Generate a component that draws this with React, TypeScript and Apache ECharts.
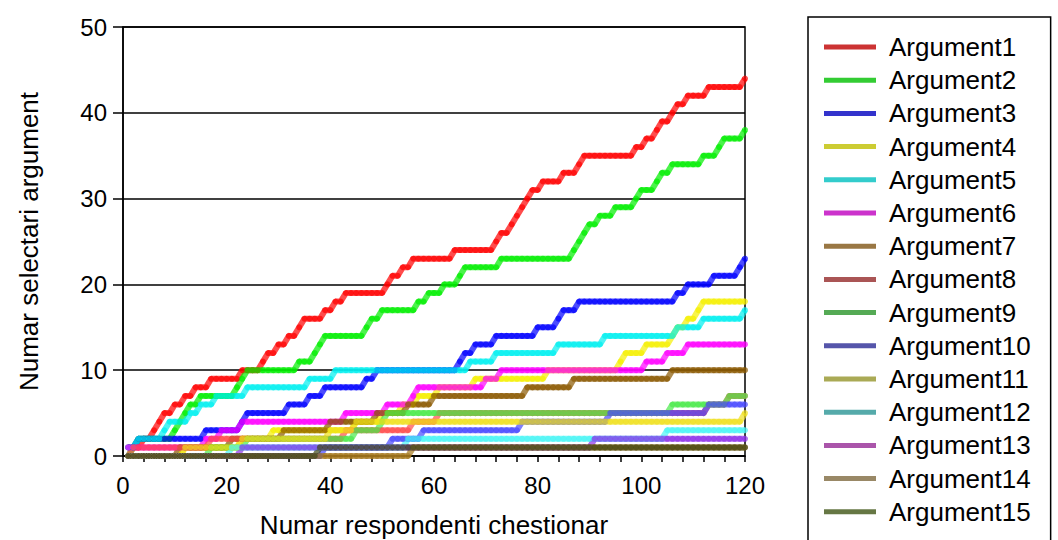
import { useEffect, useRef } from "react";
import * as echarts from "echarts";

const seriesNames = [
  "Argument1", "Argument2", "Argument3", "Argument4", "Argument5",
  "Argument6", "Argument7", "Argument8", "Argument9", "Argument10",
  "Argument11", "Argument12", "Argument13", "Argument14", "Argument15",
];

// respondent numbers (x) 1..120
const respondents = Array.from({ length: 120 }, (_, i) => i + 1);

const xTickLabels = [0, 20, 40, 60, 80, 100, 120];
const yTickLabels = [0, 10, 20, 30, 40, 50];

const arg1 = [
  1, 1, 1, 2, 2, 3, 4, 5, 5, 6,
  6, 7, 7, 8, 8, 8, 9, 9, 9, 9,
  9, 9, 10, 10, 10, 10, 11, 12, 12, 13,
  13, 14, 14, 15, 16, 16, 16, 16, 17, 17,
  18, 18, 19, 19, 19, 19, 19, 19, 19, 19,
  20, 21, 21, 22, 22, 23, 23, 23, 23, 23,
  23, 23, 23, 24, 24, 24, 24, 24, 24, 24,
  24, 25, 26, 26, 27, 28, 29, 30, 31, 31,
  32, 32, 32, 32, 33, 33, 33, 34, 35, 35,
  35, 35, 35, 35, 35, 35, 35, 35, 36, 36,
  37, 37, 38, 39, 39, 40, 41, 41, 42, 42,
  42, 42, 43, 43, 43, 43, 43, 43, 43, 44,
];
const arg2 = [
  0, 1, 2, 2, 2, 2, 2, 2, 2, 3,
  4, 5, 6, 6, 7, 7, 7, 7, 7, 7,
  7, 8, 9, 10, 10, 10, 10, 10, 10, 10,
  10, 10, 10, 11, 11, 11, 12, 13, 14, 14,
  14, 14, 14, 14, 14, 14, 15, 16, 16, 17,
  17, 17, 17, 17, 17, 17, 18, 18, 19, 19,
  19, 20, 20, 20, 21, 22, 22, 22, 22, 22,
  22, 22, 23, 23, 23, 23, 23, 23, 23, 23,
  23, 23, 23, 23, 23, 23, 24, 25, 26, 27,
  27, 28, 28, 28, 29, 29, 29, 29, 30, 31,
  31, 31, 32, 33, 33, 34, 34, 34, 34, 34,
  34, 35, 35, 35, 36, 37, 37, 37, 37, 38,
];
const arg3 = [
  1, 1, 2, 2, 2, 2, 2, 2, 2, 2,
  2, 2, 2, 2, 2, 3, 3, 3, 3, 3,
  3, 3, 4, 5, 5, 5, 5, 5, 5, 5,
  5, 6, 6, 6, 6, 7, 7, 7, 8, 8,
  8, 8, 8, 8, 8, 8, 9, 9, 10, 10,
  10, 10, 10, 10, 10, 10, 10, 10, 10, 10,
  10, 10, 10, 10, 11, 12, 12, 13, 13, 13,
  13, 14, 14, 14, 14, 14, 14, 14, 14, 15,
  15, 15, 15, 16, 17, 17, 17, 18, 18, 18,
  18, 18, 18, 18, 18, 18, 18, 18, 18, 18,
  18, 18, 18, 18, 18, 18, 19, 19, 20, 20,
  20, 20, 20, 21, 21, 21, 21, 21, 22, 23,
];
const arg4 = [
  0, 0, 0, 0, 0, 0, 0, 0, 0, 0,
  0, 1, 1, 1, 1, 1, 1, 1, 1, 1,
  1, 1, 2, 2, 2, 2, 2, 2, 3, 3,
  3, 3, 3, 3, 3, 3, 3, 3, 3, 3,
  3, 3, 3, 3, 4, 4, 4, 4, 4, 5,
  5, 5, 5, 6, 6, 6, 7, 7, 7, 7,
  8, 8, 8, 8, 8, 8, 8, 9, 9, 9,
  9, 9, 9, 9, 9, 9, 9, 9, 9, 9,
  9, 10, 10, 10, 10, 10, 10, 10, 10, 10,
  10, 10, 10, 10, 10, 11, 12, 12, 12, 12,
  13, 13, 13, 13, 13, 14, 15, 15, 16, 16,
  17, 18, 18, 18, 18, 18, 18, 18, 18, 18,
];
const arg5 = [
  1, 1, 2, 2, 2, 2, 2, 3, 4, 4,
  4, 4, 5, 5, 6, 6, 6, 7, 7, 7,
  7, 7, 7, 8, 8, 8, 8, 8, 8, 8,
  8, 8, 8, 8, 8, 9, 9, 9, 9, 9,
  10, 10, 10, 10, 10, 10, 10, 10, 10, 10,
  10, 10, 10, 10, 10, 10, 10, 10, 10, 10,
  10, 10, 10, 10, 10, 10, 11, 11, 11, 11,
  11, 12, 12, 12, 12, 12, 12, 12, 12, 12,
  12, 12, 12, 13, 13, 13, 13, 13, 13, 13,
  13, 13, 14, 14, 14, 14, 14, 14, 14, 14,
  14, 14, 14, 14, 14, 14, 15, 15, 15, 15,
  15, 16, 16, 16, 16, 16, 16, 16, 16, 17,
];
const arg6 = [
  1, 1, 1, 1, 1, 1, 1, 1, 1, 1,
  1, 1, 1, 1, 1, 2, 2, 2, 3, 3,
  3, 3, 4, 4, 4, 4, 4, 4, 4, 4,
  4, 4, 4, 4, 4, 4, 4, 4, 4, 4,
  4, 4, 5, 5, 5, 5, 5, 5, 5, 5,
  6, 6, 6, 6, 6, 7, 8, 8, 8, 8,
  8, 8, 8, 8, 8, 8, 8, 8, 8, 9,
  9, 9, 10, 10, 10, 10, 10, 10, 10, 10,
  10, 10, 10, 10, 10, 10, 10, 10, 10, 10,
  10, 10, 10, 10, 10, 10, 10, 10, 10, 10,
  11, 11, 11, 11, 12, 12, 12, 12, 13, 13,
  13, 13, 13, 13, 13, 13, 13, 13, 13, 13,
];
const arg7 = [
  0, 0, 0, 0, 0, 0, 0, 0, 0, 0,
  1, 1, 1, 1, 1, 1, 1, 1, 1, 1,
  2, 2, 2, 2, 2, 2, 2, 2, 2, 2,
  3, 3, 3, 3, 3, 3, 3, 3, 3, 4,
  4, 4, 4, 4, 4, 4, 4, 4, 5, 5,
  5, 5, 5, 5, 6, 6, 6, 6, 6, 7,
  7, 7, 7, 7, 7, 7, 7, 7, 7, 7,
  7, 7, 7, 7, 7, 7, 7, 8, 8, 8,
  8, 8, 8, 8, 8, 8, 9, 9, 9, 9,
  9, 9, 9, 9, 9, 9, 9, 9, 9, 9,
  9, 9, 9, 9, 9, 10, 10, 10, 10, 10,
  10, 10, 10, 10, 10, 10, 10, 10, 10, 10,
];
const arg8 = [
  0, 1, 1, 1, 1, 1, 1, 1, 1, 1,
  1, 1, 1, 1, 1, 1, 2, 2, 2, 2,
  2, 2, 2, 2, 2, 2, 2, 2, 2, 2,
  2, 2, 2, 2, 2, 2, 2, 2, 2, 2,
  2, 2, 3, 3, 3, 3, 3, 3, 3, 3,
  3, 3, 3, 3, 3, 4, 4, 4, 4, 4,
  5, 5, 5, 5, 5, 5, 5, 5, 5, 5,
  5, 5, 5, 5, 5, 5, 5, 5, 5, 5,
  5, 5, 5, 5, 5, 5, 5, 5, 5, 5,
  5, 5, 5, 5, 5, 5, 5, 5, 5, 5,
  5, 5, 5, 5, 5, 5, 5, 5, 5, 5,
  5, 5, 6, 6, 6, 6, 7, 7, 7, 7,
];
const arg9 = [
  0, 0, 0, 0, 0, 0, 0, 0, 0, 0,
  0, 0, 0, 0, 0, 0, 1, 1, 1, 1,
  1, 1, 1, 2, 2, 2, 2, 2, 2, 2,
  2, 2, 2, 2, 2, 2, 2, 2, 2, 2,
  2, 2, 2, 2, 3, 3, 3, 3, 3, 4,
  5, 5, 5, 5, 5, 5, 5, 5, 5, 5,
  5, 5, 5, 5, 5, 5, 5, 5, 5, 5,
  5, 5, 5, 5, 5, 5, 5, 5, 5, 5,
  5, 5, 5, 5, 5, 5, 5, 5, 5, 5,
  5, 5, 5, 5, 5, 5, 5, 5, 5, 5,
  5, 5, 5, 5, 5, 6, 6, 6, 6, 6,
  6, 6, 6, 6, 6, 6, 7, 7, 7, 7,
];
const arg10 = [
  0, 0, 0, 0, 0, 0, 0, 0, 0, 0,
  0, 0, 0, 0, 0, 0, 0, 0, 0, 0,
  0, 0, 0, 0, 0, 0, 0, 0, 0, 0,
  0, 0, 0, 0, 0, 0, 0, 0, 1, 1,
  1, 1, 1, 1, 1, 1, 1, 1, 1, 1,
  1, 2, 2, 2, 2, 2, 2, 3, 3, 3,
  3, 3, 3, 3, 3, 3, 3, 3, 3, 3,
  3, 3, 3, 3, 3, 3, 4, 4, 4, 4,
  4, 4, 4, 4, 4, 4, 4, 4, 4, 4,
  4, 4, 4, 5, 5, 5, 5, 5, 5, 5,
  5, 5, 5, 5, 5, 5, 5, 5, 5, 5,
  5, 5, 6, 6, 6, 6, 6, 6, 6, 6,
];
const arg11 = [
  0, 0, 0, 0, 0, 0, 0, 0, 0, 0,
  0, 1, 1, 1, 1, 1, 1, 1, 1, 1,
  1, 1, 2, 2, 2, 2, 2, 2, 2, 2,
  2, 2, 2, 2, 2, 2, 2, 2, 2, 3,
  3, 3, 3, 3, 4, 4, 4, 4, 4, 4,
  4, 4, 4, 4, 4, 4, 4, 4, 4, 4,
  4, 4, 4, 4, 4, 4, 4, 4, 4, 4,
  4, 4, 4, 4, 4, 4, 4, 4, 4, 4,
  4, 4, 4, 4, 4, 4, 4, 4, 4, 4,
  4, 4, 4, 4, 4, 4, 4, 4, 4, 4,
  4, 4, 4, 4, 4, 4, 4, 4, 4, 4,
  4, 4, 4, 4, 4, 4, 4, 4, 4, 5,
];
const arg12 = [
  0, 0, 0, 0, 0, 0, 0, 0, 0, 0,
  0, 0, 0, 0, 0, 0, 0, 0, 0, 0,
  1, 1, 1, 1, 1, 1, 1, 1, 1, 1,
  1, 1, 1, 1, 1, 1, 1, 1, 1, 1,
  1, 1, 1, 1, 1, 1, 1, 1, 1, 1,
  1, 1, 1, 1, 2, 2, 2, 2, 2, 2,
  2, 2, 2, 2, 2, 2, 2, 2, 2, 2,
  2, 2, 2, 2, 2, 2, 2, 2, 2, 2,
  2, 2, 2, 2, 2, 2, 2, 2, 2, 2,
  2, 2, 2, 2, 2, 2, 2, 2, 2, 2,
  2, 2, 2, 2, 3, 3, 3, 3, 3, 3,
  3, 3, 3, 3, 3, 3, 3, 3, 3, 3,
];
const arg13 = [
  0, 0, 0, 0, 0, 0, 0, 0, 0, 0,
  0, 0, 0, 0, 0, 0, 0, 0, 0, 0,
  0, 0, 1, 1, 1, 1, 1, 1, 1, 1,
  1, 1, 1, 1, 1, 1, 1, 1, 1, 1,
  1, 1, 1, 1, 1, 1, 1, 1, 1, 1,
  1, 1, 1, 1, 1, 1, 1, 1, 1, 1,
  1, 1, 1, 1, 1, 1, 1, 1, 1, 1,
  1, 1, 1, 1, 1, 1, 1, 1, 1, 1,
  1, 1, 1, 1, 1, 1, 1, 1, 1, 1,
  2, 2, 2, 2, 2, 2, 2, 2, 2, 2,
  2, 2, 2, 2, 2, 2, 2, 2, 2, 2,
  2, 2, 2, 2, 2, 2, 2, 2, 2, 2,
];
const arg14 = [
  0, 0, 0, 0, 0, 0, 0, 0, 0, 0,
  0, 0, 0, 0, 0, 0, 0, 0, 0, 0,
  0, 0, 0, 0, 0, 0, 0, 0, 0, 0,
  0, 0, 0, 0, 0, 0, 0, 0, 0, 0,
  0, 0, 0, 0, 0, 0, 0, 0, 0, 0,
  0, 0, 0, 0, 0, 1, 1, 1, 1, 1,
  1, 1, 1, 1, 1, 1, 1, 1, 1, 1,
  1, 1, 1, 1, 1, 1, 1, 1, 1, 1,
  1, 1, 1, 1, 1, 1, 1, 1, 1, 1,
  1, 1, 1, 1, 1, 1, 1, 1, 1, 1,
  1, 1, 1, 1, 1, 1, 1, 1, 1, 1,
  1, 1, 1, 1, 1, 1, 1, 1, 1, 1,
];
const arg15 = [
  0, 0, 0, 0, 0, 0, 0, 0, 0, 0,
  0, 0, 0, 0, 0, 0, 0, 0, 0, 0,
  0, 0, 0, 0, 0, 0, 0, 0, 0, 0,
  0, 0, 0, 0, 0, 0, 0, 1, 1, 1,
  1, 1, 1, 1, 1, 1, 1, 1, 1, 1,
  1, 1, 1, 1, 1, 1, 1, 1, 1, 1,
  1, 1, 1, 1, 1, 1, 1, 1, 1, 1,
  1, 1, 1, 1, 1, 1, 1, 1, 1, 1,
  1, 1, 1, 1, 1, 1, 1, 1, 1, 1,
  1, 1, 1, 1, 1, 1, 1, 1, 1, 1,
  1, 1, 1, 1, 1, 1, 1, 1, 1, 1,
  1, 1, 1, 1, 1, 1, 1, 1, 1, 1,
];

const seriesValues = [
  arg1, arg2, arg3, arg4, arg5, arg6, arg7, arg8,
  arg9, arg10, arg11, arg12, arg13, arg14, arg15,
];

const plotColors = [
  "#ff0000", "#00ee00", "#0000ff", "#f5f000", "#00f0f0",
  "#ff00ff", "#8a5800", "#ff4c4c", "#4ae94a", "#4848ff",
  "#f0e020", "#48f5f5", "#8e33ea", "#a5781c", "#404818",
];
const legendColors = [
  "#cc3333", "#33cc33", "#3333cc", "#cccc33", "#33cccc",
  "#cc33cc", "#997744", "#aa5555", "#55aa55", "#5555aa",
  "#aaaa55", "#55aaaa", "#aa55aa", "#998866", "#667744",
];

const FONT = "'Liberation Sans', Arial, sans-serif";

export default function App() {
  const ref = useRef<HTMLDivElement>(null);

  useEffect(() => {
    if (!ref.current) return;
    const chart = echarts.init(ref.current, undefined, { renderer: "svg" });
    const option = {
      animation: false,
      backgroundColor: "#ffffff",
      grid: {
        left: 123,
        top: 27,
        width: 622,
        height: 429,
        outerBoundsMode: "none",
        containLabel: false,
        show: true,
        borderColor: "#000",
        borderWidth: 1.5,
        backgroundColor: "transparent",
      },
      xAxis: {
        type: "value",
        min: 0,
        max: 120,
        interval: 4,
        name: "Numar respondenti chestionar",
        nameLocation: "middle",
        nameGap: 55,
        nameTextStyle: { fontSize: 26, color: "#000", fontFamily: FONT, lineHeight: 28 },
        axisLine: { show: true, onZero: false, lineStyle: { color: "#000", width: 1.5 } },
        axisTick: { show: true, length: 6, lineStyle: { color: "#000", width: 1.5 } },
        axisLabel: {
          fontSize: 24,
          color: "#000",
          fontFamily: FONT,
          margin: 17,
          formatter: (v: number) => (xTickLabels.includes(v) ? String(v) : ""),
        },
        splitLine: { show: false },
      },
      yAxis: {
        type: "value",
        min: 0,
        max: 50,
        interval: 10,
        name: "Numar selectari argument",
        nameLocation: "middle",
        nameGap: 81,
        nameTextStyle: { fontSize: 26, color: "#000", fontFamily: FONT },
        axisLine: { show: true, lineStyle: { color: "#000", width: 1.5 } },
        axisTick: { show: true, length: 10, lineStyle: { color: "#000", width: 1.5 } },
        axisLabel: {
          fontSize: 24,
          color: "#000",
          fontFamily: FONT,
          margin: 16,
          formatter: (v: number) => (yTickLabels.includes(v) ? String(v) : ""),
        },
        splitLine: { show: true, lineStyle: { color: "#000", width: 1.5 } },
      },
      legend: {
        orient: "vertical",
        left: 808,
        top: 17,
        height: 520,
        padding: [16, 20, 40, 16],
        itemWidth: 52,
        itemHeight: 5,
        itemGap: 5.2,
        icon: "rect",
        borderColor: "#000",
        borderWidth: 1.5,
        selectedMode: false,
        textStyle: {
          fontSize: 26,
          color: "#000",
          fontFamily: FONT,
          lineHeight: 28,
          padding: [0, 0, 0, 8],
        },
        data: seriesNames.map((n, i) => ({
          name: n,
          itemStyle: { color: legendColors[i], opacity: 1 },
        })),
      },
      series: seriesValues.map((arr, i) => ({
        name: seriesNames[i],
        type: "line",
        data: arr.map((v, j) => [respondents[j], v]),
        symbol: "circle",
        symbolSize: 6,
        showSymbol: true,
        silent: true,
        lineStyle: { color: plotColors[i], width: 6, opacity: 0.7 },
        itemStyle: { color: plotColors[i], opacity: 0.7 },
        emphasis: { disabled: true },
      })),
    };
    chart.setOption(option as any);
    return () => chart.dispose();
  }, []);

  return (
    <div
      ref={ref}
      style={{ position: "fixed", left: 0, top: 0, width: 1058, height: 540, background: "#fff" }}
    />
  );
}
